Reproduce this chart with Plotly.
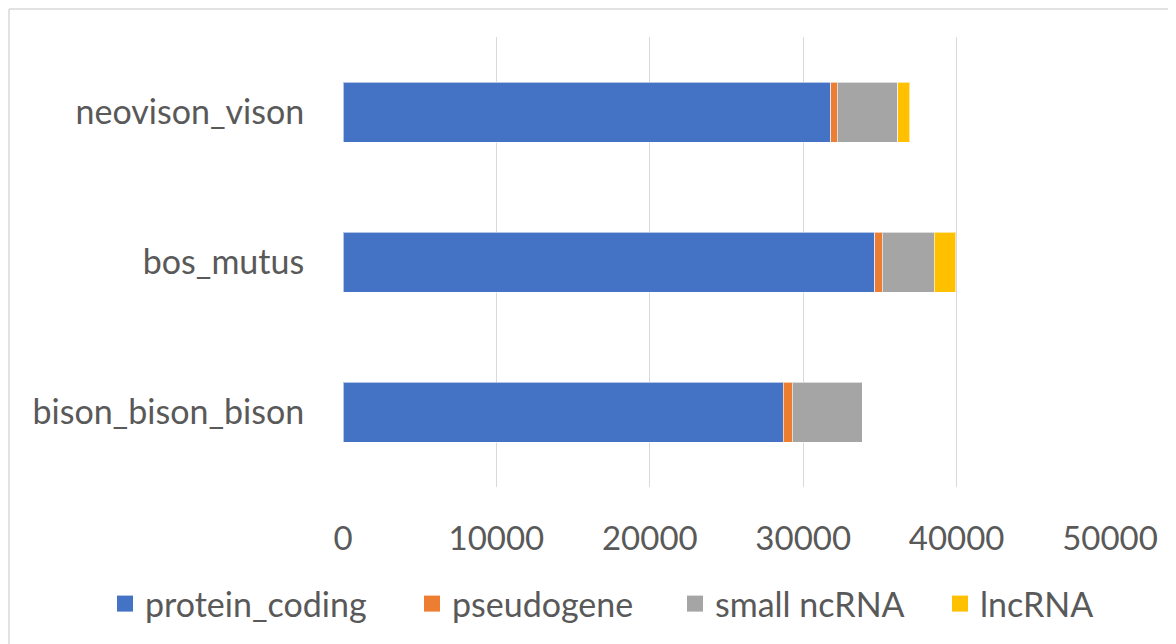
import plotly.graph_objects as go

species = ["bison_bison_bison", "bos_mutus", "neovison_vison"]
protein_coding = [28710, 34660, 31810]
pseudogene = [590, 500, 410]
small_ncrna = [4540, 3390, 3930]
lncrna = [0, 1410, 800]
x_ticks = [0, 10000, 20000, 30000, 40000, 50000]

series = [
    ("protein_coding", protein_coding, "#4472C4"),
    ("pseudogene", pseudogene, "#ED7D31"),
    ("small ncRNA", small_ncrna, "#A5A5A5"),
    ("lncRNA", lncrna, "#FFC000"),
]

# page body adds an 8px offset; work in figure pixels
OFF = 8
W, H = 1176 - OFF, 644 - OFF
L, R, T, B = 343 - OFF, 1110 - OFF, 37 - OFF, 487 - OFF
pw, ph = R - L, B - T

def px(x):
    return (x - OFF - L) / pw

def py(y):
    return (B - (y - OFF)) / ph

font = "Lato, Calibri, Carlito, sans-serif"
legend_text_x = [145, 452, 715, 980]

fig = go.Figure()
legends = {}
for i, (name, vals, col) in enumerate(series):
    lg = "legend" if i == 0 else f"legend{i + 1}"
    fig.add_trace(go.Bar(
        y=species, x=vals, name=name, orientation="h", showlegend=False,
        marker=dict(color=col, line=dict(color="rgba(255,255,255,0.6)", width=1)),
    ))
    # legend key (larger square swatch)
    fig.add_trace(go.Scatter(
        x=[None], y=[None], mode="markers", name=name, legend=lg,
        marker=dict(symbol="square", size=20, color=col),
    ))
    legends[lg] = dict(orientation="h", x=px(legend_text_x[i] - 40), xanchor="left",
                       y=py(604), yanchor="middle", bgcolor="rgba(0,0,0,0)",
                       font=dict(size=34, color="#595959"), itemwidth=30)

border = dict(color="#D9D9D9", width=1.5)
fig.update_layout(
    width=W, height=H,
    margin=dict(l=L, r=W - R, t=T, b=H - B, autoexpand=False),
    barmode="stack", bargap=0.6,
    paper_bgcolor="white", plot_bgcolor="white",
    font=dict(family=font, size=34, color="#595959"),
    xaxis=dict(range=[0, 50000], tickvals=x_ticks, ticktext=[str(v) for v in x_ticks],
               showgrid=True, gridcolor="#D9D9D9", gridwidth=1, zeroline=False,
               showline=False, ticks="outside", ticklen=22, tickcolor="rgba(0,0,0,0)",
               tickfont=dict(size=33, color="#595959")),
    yaxis=dict(categoryorder="array", categoryarray=species, showgrid=False,
               zeroline=False, showline=False, ticks="outside", ticklen=31,
               tickcolor="rgba(0,0,0,0)", tickfont=dict(size=34, color="#595959")),
    showlegend=True,
    shapes=[
        dict(type="line", xref="paper", yref="paper",
             x0=px(9), x1=px(1180), y0=py(9), y1=py(9), line=border, layer="below"),
        dict(type="line", xref="paper", yref="paper",
             x0=px(9), x1=px(9), y0=py(9), y1=py(660), line=border, layer="below"),
    ],
    **legends,
)

fig.write_html("out.html")
